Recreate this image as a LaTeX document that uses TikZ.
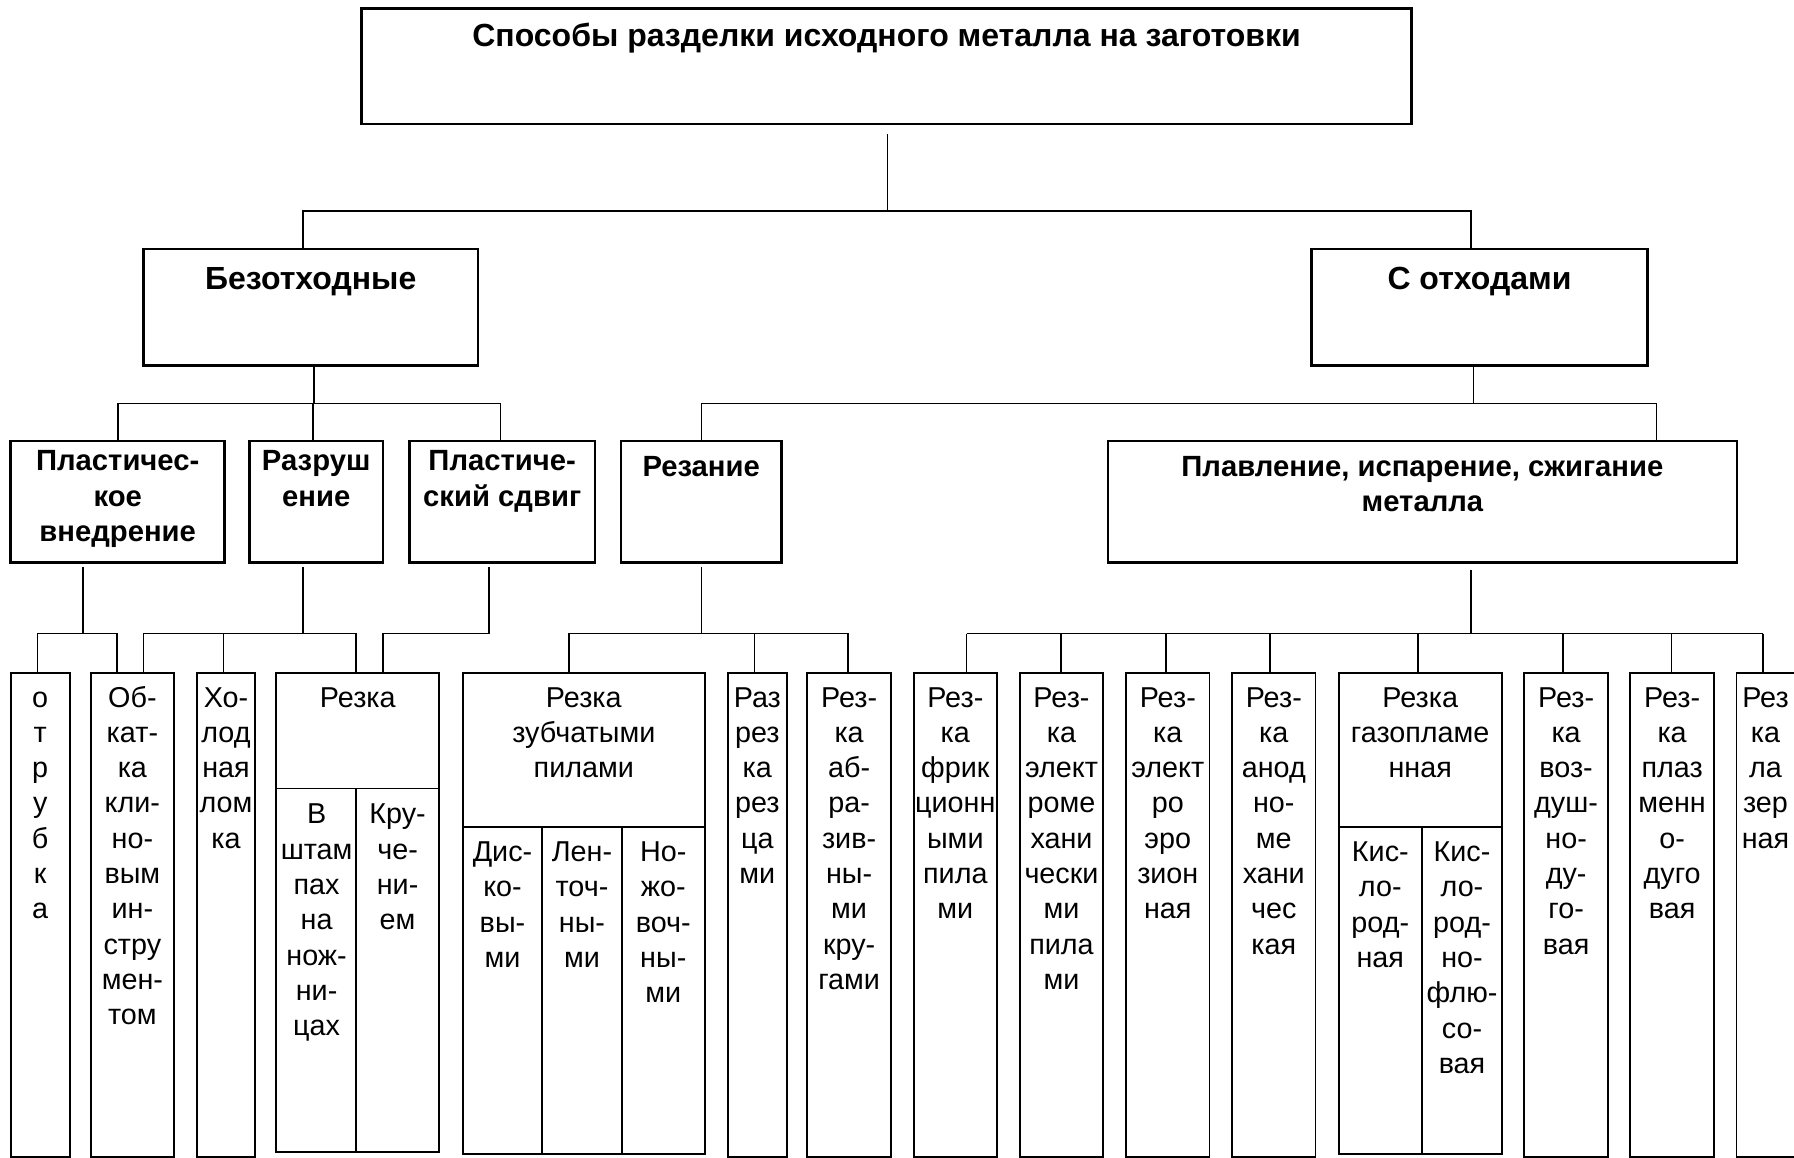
\documentclass[tikz,border=0pt]{standalone}
\usepackage{fontspec}
\setmainfont{Liberation Sans}
\usetikzlibrary{fit}
\newcommand\mkbox[6]{\node[#2, fit={(#3,#4) (#5,#6)}] (#1) {};}
\newcommand\mklines[5]{%
  \foreach \t [count=\i] in {#5} {\node[#2] (#1-\i) at (#3, {#4+(\i-1)*35.3}) {\t};}%
}
\begin{document}
\begin{tikzpicture}[x=0.4pt,y=-0.4pt,
  bigbox/.style={draw, line width=1pt, inner sep=0pt},
  cell/.style={draw, line width=0.75pt, inner sep=0pt},
  conn/.style={line width=0.65pt},
  ttl/.style={font=\fontsize{12.8}{14}\selectfont\bfseries, inner sep=0pt, anchor=base},
  sub/.style={font=\fontsize{12.8}{14}\selectfont\bfseries, inner sep=0pt, anchor=base},
  hd/.style={font=\fontsize{11.7}{14}\selectfont\bfseries, inner sep=0pt, anchor=base},
  txt/.style={font=\fontsize{11.5}{14}\selectfont, inner sep=0pt, anchor=base},
]
\useasboundingbox (0,0) rectangle (1794,1158);
\fill[white] (0,0) rectangle (1794,1158);
\clip (0,0) rectangle (1794,1158);

% ---------- level 1 ----------
\mkbox{top}{bigbox}{361.6}{8.3}{1411.4}{124}
\node[ttl] (title) at (886.5,46.5) {Способы разделки исходного металла на заготовки};

% ---------- level 2 ----------
\mkbox{bez}{bigbox}{143.5}{249}{478}{365.7}
\node[sub] (bez-t) at (310.7,289.3) {Безотходные};
\mkbox{sotx}{bigbox}{1311.6}{249}{1647.4}{365.7}
\node[sub] (sotx-t) at (1479.5,289.3) {С отходами};

% ---------- level 3 ----------
\mkbox{pv}{bigbox}{10.7}{441.2}{224.6}{562.6}
\mklines{pv-t}{hd}{117.7}{470.8}{Пластичес-,кое,внедрение}
\mkbox{raz}{bigbox}{249.5}{441.2}{383}{562.6}
\mklines{raz-t}{hd}{316.2}{470.8}{Разруш,ение}
\mkbox{ps}{bigbox}{409.5}{441.2}{595}{562.6}
\mklines{ps-t}{hd}{502.2}{470.8}{Пластиче-,ский сдвиг}
\mkbox{rezanie}{bigbox}{621}{441.2}{781.4}{562.6}
\mklines{rezanie-t}{hd}{701.2}{476.5}{Резание}
\mkbox{plav}{bigbox}{1107.8}{441.2}{1737}{562.6}
\mklines{plav-t}{hd}{1422.4}{476.5}{{Плавление, испарение, сжигание},металла}

% ---------- level 4 ----------
\mkbox{otr}{cell}{10.7}{672.7}{69.7}{1156.8}
\mklines{otr-t}{txt}{40.2}{707}{о,т,р,у,б,к,а}
\mkbox{obk}{cell}{90.7}{672.7}{174.2}{1156.8}
\mklines{obk-t}{txt}{132.4}{707}{Об-,кат-,ка,кли-,но-,вым,ин-,стру,мен-,том}
\mkbox{hol}{cell}{196.7}{672.7}{255.3}{1156.8}
\mklines{hol-t}{txt}{226}{707}{Хо-,лод,ная,лом,ка}

\mkbox{rezka}{cell}{276.3}{672.7}{439.3}{1151.7}
\mkbox{rezka-top}{cell}{276.3}{672.7}{439.3}{788.5}
\mkbox{rezka-a}{cell}{276.3}{788.5}{356}{1151.7}
\mkbox{rezka-b}{cell}{356}{788.5}{439.3}{1151.7}
\mklines{rezka-tt}{txt}{357.8}{707}{Резка}
\mklines{rezka-at}{txt}{316.6}{823.8}{В,штам,пах,на,нож-,ни-,цах}
\mklines{rezka-bt}{txt}{397.6}{823.8}{Кру-,че-,ни-,ем}

\mkbox{zub}{cell}{462.7}{672.7}{704.9}{1154}
\mkbox{zub-top}{cell}{462.7}{672.7}{704.9}{827}
\mkbox{zub-a}{cell}{462.7}{827}{542.3}{1154}
\mkbox{zub-b}{cell}{542.3}{827}{621.8}{1154}
\mkbox{zub-c}{cell}{621.8}{827}{704.9}{1154}
\mklines{zub-tt}{txt}{583.8}{707}{Резка,зубчатыми,пилами}
\mklines{zub-at}{txt}{502.5}{861.5}{Дис-,ко-,вы-,ми}
\mklines{zub-bt}{txt}{582}{861.5}{Лен-,точ-,ны-,ми}
\mklines{zub-ct}{txt}{663.3}{861.5}{Но-,жо-,воч-,ны-,ми}

\mkbox{razr}{cell}{727.8}{672.7}{786.8}{1156.8}
\mklines{razr-t}{txt}{757.3}{707}{Раз,рез,ка,рез,ца,ми}
\mkbox{abr}{cell}{807.4}{672.7}{890.9}{1156.8}
\mklines{abr-t}{txt}{849.1}{707}{Рез-,ка,аб-,ра-,зив-,ны-,ми,кру-,гами}
\mkbox{fri}{cell}{913.8}{672.7}{996.9}{1156.8}
\mklines{fri-t}{txt}{955.3}{707}{Рез-,ка,фрик,ционн,ыми,пила,ми}
\mkbox{elm}{cell}{1019.8}{672.7}{1103.3}{1156.8}
\mklines{elm-t}{txt}{1061.5}{707}{Рез-,ка,элект,роме,хани,чески,ми,пила,ми}
\mkbox{ero}{cell}{1126.2}{672.7}{1209.5}{1156.8}
\mklines{ero-t}{txt}{1167.8}{707}{Рез-,ка,элект,ро,эро,зион,ная}
\mkbox{ano}{cell}{1232.2}{672.7}{1315.5}{1156.8}
\mklines{ano-t}{txt}{1273.8}{707}{Рез-,ка,анод,но-,ме,хани,чес,кая}

\mkbox{gaz}{cell}{1338.6}{672.7}{1501.9}{1154}
\mkbox{gaz-top}{cell}{1338.6}{672.7}{1501.9}{826.6}
\mkbox{gaz-a}{cell}{1338.6}{826.6}{1422}{1154}
\mkbox{gaz-b}{cell}{1422}{826.6}{1501.9}{1154}
\mklines{gaz-tt}{txt}{1420.2}{707}{Резка,газопламе,нная}
\mklines{gaz-at}{txt}{1380.3}{861.5}{Кис-,ло-,род-,ная}
\mklines{gaz-bt}{txt}{1462}{861.5}{Кис-,ло-,род-,но-,флю-,со-,вая}

\mkbox{voz}{cell}{1524.2}{672.7}{1608}{1156.8}
\mklines{voz-t}{txt}{1566.1}{707}{Рез-,ка,воз-,душ-,но-,ду-,го-,вая}
\mkbox{pla}{cell}{1630.3}{672.7}{1714}{1156.8}
\mklines{pla-t}{txt}{1672.1}{707}{Рез-,ка,плаз,менн,о-,дуго,вая}
\mkbox{laz}{cell}{1736.5}{672.7}{1830}{1156.8}
\mklines{laz-t}{txt}{1765.5}{707}{Рез,ка,ла,зер,ная}

% ---------- connectors ----------
\coordinate (a0) at (887.5,134);
\coordinate (a1) at (887.5,210.7);
\coordinate (aL) at (303,210.7);
\coordinate (aR) at (1470.7,210.7);
\draw[conn] (a0) -- (a1);
\draw[conn] (bez.north -| aL) -- (aL) -- (aR) -- (sotx.north -| aR);

\coordinate (b1) at (314,403.5);
\coordinate (bL) at (117.7,403.5);
\coordinate (bM) at (313,403.5);
\coordinate (bR) at (500.6,403.5);
\draw[conn] (bez.south -| b1) -- (b1);
\draw[conn] (pv.north -| bL) -- (bL) -- (bR) -- (ps.north -| bR);
\draw[conn] (bM) -- (raz.north -| bM);

\coordinate (c1) at (1473.5,403.5);
\coordinate (cL) at (701.5,403.5);
\coordinate (cR) at (1656.6,403.5);
\draw[conn] (sotx.south -| c1) -- (c1);
\draw[conn] (rezanie.north -| cL) -- (cL) -- (cR) -- (plav.north -| cR);

\coordinate (d0) at (83,566.8);
\coordinate (d1) at (83,633.5);
\coordinate (dL) at (37.5,633.5);
\coordinate (dR) at (117.3,633.5);
\draw[conn] (d0) -- (d1);
\draw[conn] (otr.north -| dL) -- (dL) -- (dR) -- (obk.north -| dR);

\coordinate (e0) at (303,566.8);
\coordinate (e1) at (303,633.5);
\coordinate (eL) at (143.5,633.5);
\coordinate (eM) at (223.5,633.5);
\coordinate (eR) at (356,633.5);
\draw[conn] (e0) -- (e1);
\draw[conn] (obk.north -| eL) -- (eL) -- (eR) -- (rezka.north -| eR);
\draw[conn] (eM) -- (hol.north -| eM);

\coordinate (f0) at (488.7,566.8);
\coordinate (f1) at (488.7,633.5);
\coordinate (fL) at (382.7,633.5);
\draw[conn] (f0) -- (f1) -- (fL) -- (rezka.north -| fL);

\coordinate (g0) at (701.4,566.8);
\coordinate (g1) at (701.4,633.5);
\coordinate (gL) at (569,633.5);
\coordinate (gM) at (754.6,633.5);
\coordinate (gR) at (848,633.5);
\draw[conn] (g0) -- (g1);
\draw[conn] (zub.north -| gL) -- (gL) -- (gR) -- (abr.north -| gR);
\draw[conn] (gM) -- (razr.north -| gM);

\coordinate (h0) at (1470.8,569.6);
\coordinate (h1) at (1470.8,633.5);
\coordinate (hL) at (966.6,633.5);
\coordinate (hR) at (1762.9,633.5);
\draw[conn] (h0) -- (h1);
\draw[conn] (hL) -- (hR);
\foreach \xx/\nn in {966.6/fri,1061/elm,1166/ero,1270/ano,1417.8/gaz,1562.9/voz,1671.6/pla,1762.9/laz}{
  \coordinate (h-\nn) at (\xx,633.5);
  \draw[conn] (h-\nn) -- (h-\nn |- \nn.north);
}
\end{tikzpicture}
\end{document}
